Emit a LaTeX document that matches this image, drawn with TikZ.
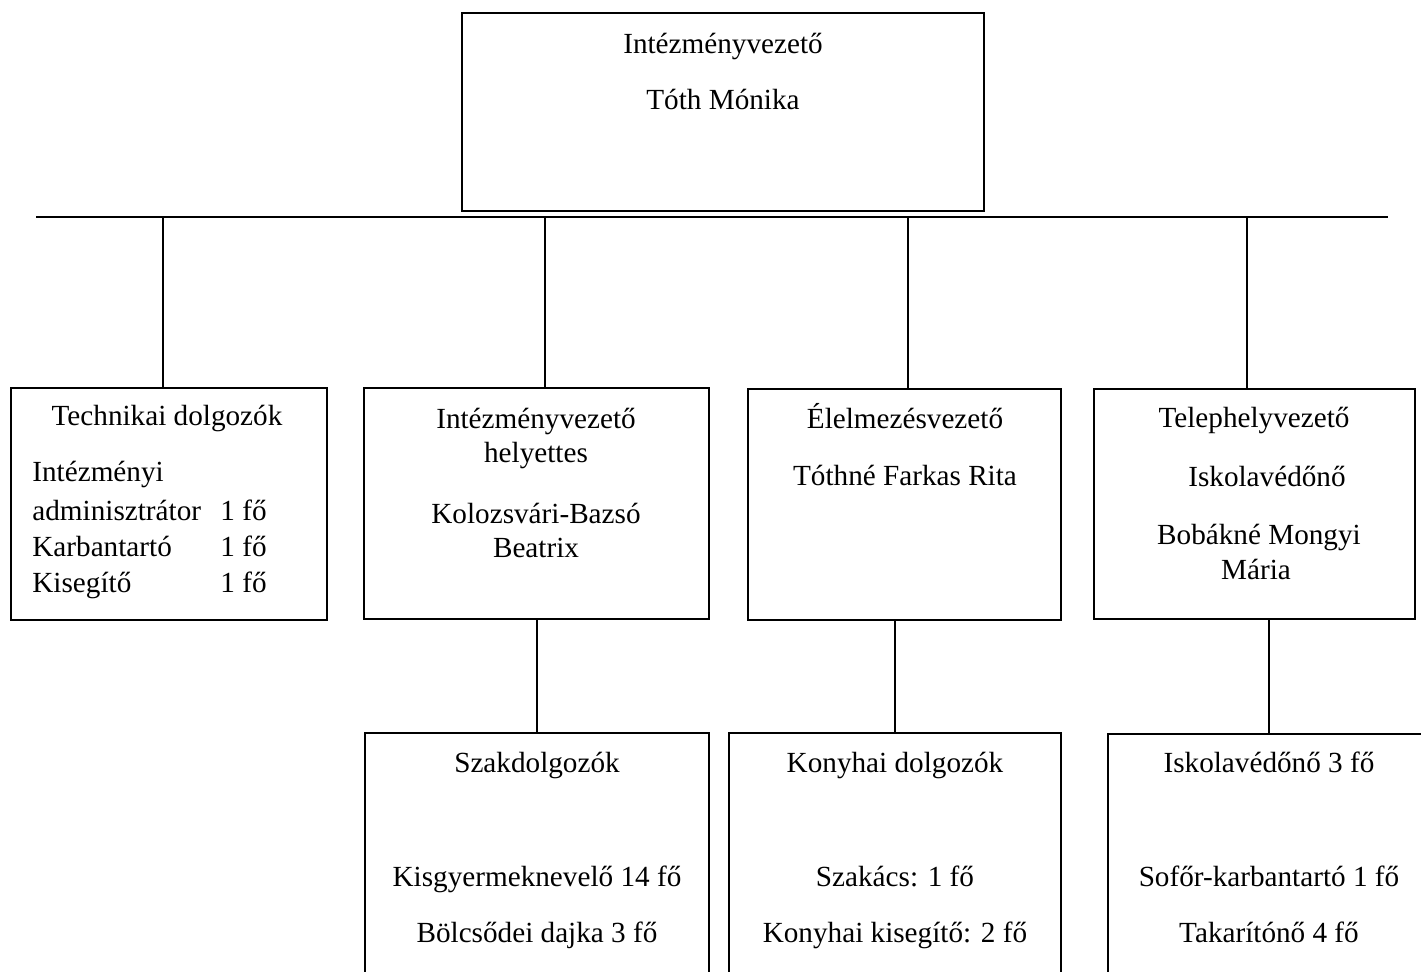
\documentclass[tikz,border=0pt]{standalone}
\usepackage{fontspec}
\setmainfont{Liberation Serif}
\usepackage{tikz}

\begin{document}
\begin{tikzpicture}[x=0.5pt,y=-0.5pt,
  box/.style={draw, line width=0.85pt, inner sep=0pt, outer sep=0pt, anchor=north west},
  txt/.style={inner sep=0pt, anchor=base, font=\fontsize{14.6}{17.5}\selectfont},
  txtl/.style={txt, anchor=base west},
  link/.style={line width=0.85pt}]
\useasboundingbox (0,0) rectangle (1421,971);
\clip (0,0) rectangle (1421,971);

% top
\node[box, minimum width=261pt, minimum height=99pt] (vez) at (462,13) {};
\node[txt] (vez-1) at (723,53) {Intézményvezető};
\node[txt] (vez-2) at (723,109) {Tóth Mónika};

% bus
\coordinate (busL) at (36,217);
\coordinate (busR) at (1388,217);
\draw[line width=1.1pt] (busL) -- (busR);

% 2nd row
\node[box, minimum width=158pt, minimum height=116pt] (tech) at (11,388) {};
\node[box, minimum width=172.5pt, minimum height=115.5pt] (helyt) at (364,388) {};
\node[box, line width=1.2pt, minimum width=156.5pt, minimum height=115.5pt] (elel) at (748,389) {};
\node[box, minimum width=160.5pt, minimum height=115pt] (telep) at (1094,389) {};

\node[txt] (tech-1) at (167,425) {Technikai dolgozók};
\node[txtl] (tech-2) at (32,481) {Intézményi};
\node[txtl] (tech-3) at (32,520) {adminisztrátor};
\node[txtl] (tech-4) at (32,556) {Karbantartó};
\node[txtl] (tech-5) at (32,592) {Kisegítő};
\foreach \y in {520,556,592} {
\node[txtl] (fo-\y) at (220,\y) {1 fő};
}

\node[txt] (helyt-1) at (536,428) {Intézményvezető};
\node[txt] (helyt-2) at (536,462) {helyettes};
\node[txt] (helyt-3) at (536,523) {Kolozsvári-Bazsó};
\node[txt] (helyt-4) at (536,557) {Beatrix};

\node[txt] (elel-1) at (905,428) {Élelmezésvezető};
\node[txt] (elel-2) at (905,485) {Tóthné Farkas Rita};

\node[txt] (telep-1) at (1254,427) {Telephelyvezető};
\node[txt] (telep-2) at (1267,486) {Iskolavédőnő};
\node[txt] (telep-3) at (1259,544) {Bobákné Mongyi};
\node[txt] (telep-4) at (1256,579) {Mária};

% drops
\foreach \x/\n in {163/tech,545/helyt,908/elel,1247/telep} {
\coordinate (d-\n) at (\x,217);
\draw[link] (d-\n) -- (d-\n |- \n.north);
}

% 3rd row
\node[box, minimum width=172pt, minimum height=150pt] (szak) at (365,733) {};
\node[box, minimum width=166pt, minimum height=150pt] (kony) at (729,733) {};
\node[box, minimum width=161pt, minimum height=150pt] (isk) at (1108,734) {};

\node[txt] (szak-1) at (537,772) {Szakdolgozók};
\node[txt] (szak-2) at (537,886) {Kisgyermeknevelő 14 fő};
\node[txt] (szak-3) at (537,942) {Bölcsődei dajka 3 fő};

\node[txt] (kony-1) at (895,772) {Konyhai dolgozók};
\node[txt] (kony-2) at (895,886) {Szakács: 1 fő};
\node[txt] (kony-3) at (895,942) {Konyhai kisegítő: 2 fő};

\node[txt] (isk-1) at (1269,772) {Iskolavédőnő 3 fő};
\node[txt] (isk-2) at (1269,886) {Sofőr-karbantartó 1 fő};
\node[txt] (isk-3) at (1269,942) {Takarítónő 4 fő};

\draw[link] (helyt.south -| szak.north) -- (szak.north);
\draw[link] (elel.south -| kony.north) -- (kony.north);
\draw[link] (telep.south -| isk.north) -- (isk.north);

\end{tikzpicture}
\end{document}
